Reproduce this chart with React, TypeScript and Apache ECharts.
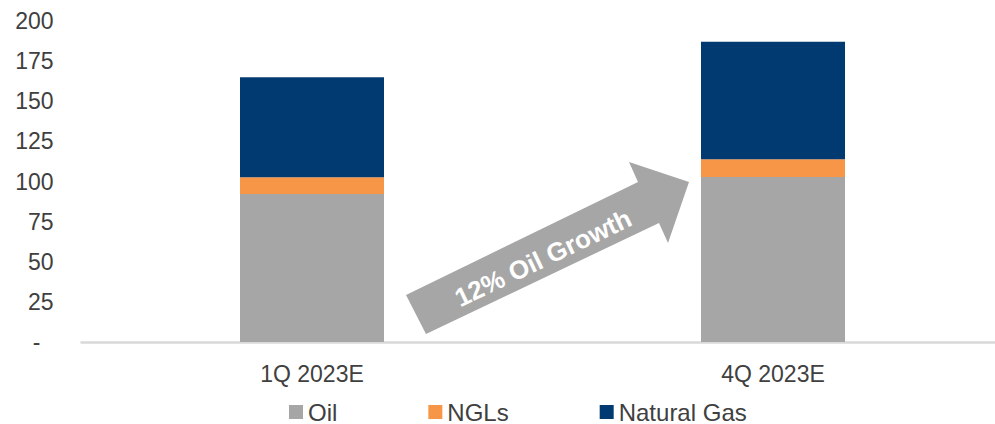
import React, { useEffect, useRef } from "react";
import * as echarts from "echarts";

const categories = ["1Q 2023E", "4Q 2023E"];
const oil = [92.2, 102.8];
const ngls = [10.4, 11.0];
const naturalGas = [62.3, 73.3];
const yTicks = { min: 0, max: 200, interval: 25 };
const arrowLabel = "12% Oil Growth";

export default function App() {
  const ref = useRef<HTMLDivElement>(null);
  useEffect(() => {
    const chart = echarts.init(ref.current!, undefined, { renderer: "svg" });
    const font = "Liberation Sans, Arial, sans-serif";
    chart.setOption({
      animation: false,
      textStyle: { fontFamily: font },
      grid: {
        left: 81.5,
        right: -8.5,
        top: 21,
        bottom: 82,
        containLabel: false,
        outerBoundsMode: "none",
      },
      legend: {
        left: 289,
        top: 400,
        padding: 0,
        icon: "rect",
        itemWidth: 14,
        itemHeight: 14,
        itemGap: 91,
        textStyle: { fontSize: 24, lineHeight: 22, color: "#404040", fontFamily: font },
        data: ["Oil", "NGLs", "Natural Gas"],
      },
      xAxis: {
        type: "category",
        data: categories,
        axisLine: { show: true, lineStyle: { color: "#d9d9d9", width: 2.5 } },
        axisTick: { show: false },
        axisLabel: { fontSize: 23, color: "#404040", margin: 20, fontFamily: font },
      },
      yAxis: {
        type: "value",
        min: yTicks.min,
        max: yTicks.max,
        interval: yTicks.interval,
        splitLine: { show: false },
        axisLine: { show: false },
        axisTick: { show: false },
        axisLabel: {
          fontSize: 23,
          color: "#404040",
          margin: 28,
          fontFamily: font,
          formatter: (v: number) => (v === 0 ? "{d|-}" : String(v)),
          rich: { d: { fontSize: 23, color: "#404040", padding: [0, 13, 0, 0], fontFamily: font } },
        },
      },
      series: [
        { name: "Oil", type: "bar", stack: "t", data: oil, barWidth: 144, itemStyle: { color: "#a6a6a6" } },
        { name: "NGLs", type: "bar", stack: "t", data: ngls, barWidth: 144, itemStyle: { color: "#f79646" } },
        { name: "Natural Gas", type: "bar", stack: "t", data: naturalGas, barWidth: 144, itemStyle: { color: "#003a70" } },
      ],
      graphic: [
        {
          type: "polygon",
          shape: {
            points: [
              [406, 295],
              [638, 182],
              [629, 162],
              [689, 182],
              [668, 243],
              [659, 223],
              [426, 334],
            ],
          },
          style: { fill: "#a6a6a6" },
          z: 10,
        },
        {
          type: "text",
          x: 543,
          y: 258,
          rotation: (25.5 * Math.PI) / 180,
          style: {
            text: arrowLabel,
            fill: "#ffffff",
            font: `bold 26px ${font}`,
            align: "center",
            verticalAlign: "middle",
          },
          z: 11,
        },
      ],
    });
    return () => chart.dispose();
  }, []);
  return <div ref={ref} style={{ width: 995, height: 424, position: "absolute", left: 0, top: 0 }} />;
}
